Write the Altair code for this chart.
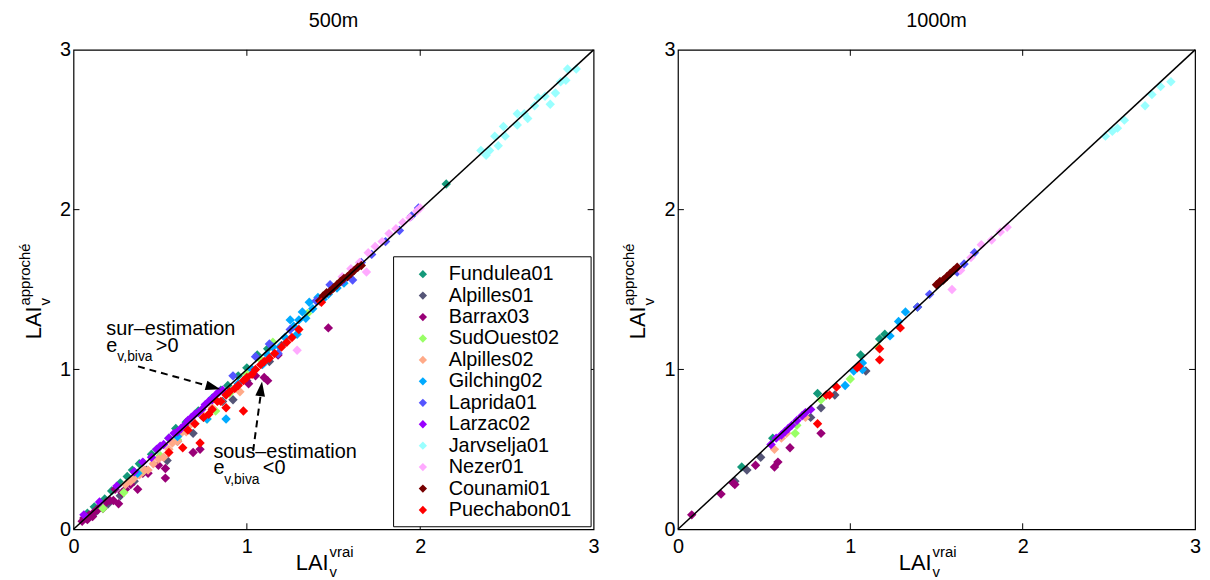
import altair as alt
import pandas as pd

FONT = "Liberation Sans"

series = ["Fundulea01", "Alpilles01", "Barrax03", "SudOuest02", "Alpilles02", "Gilching02",
          "Laprida01", "Larzac02", "Jarvselja01", "Nezer01", "Counami01", "Puechabon01"]
colors = ["#14997a", "#555577", "#990077", "#99ff66", "#ffaa88", "#00aaff",
          "#5555ff", "#9900ff", "#99ffff", "#ffaaff", "#770000", "#ff0000"]

# ---------------- 500m panel ----------------
fund_500_x = [0.08, 0.12, 0.18, 0.22, 0.27, 0.31, 0.34, 0.38, 0.45, 0.48, 0.55, 0.59, 0.65, 0.72, 0.80, 0.85, 0.89, 0.95, 1.00, 1.06, 1.12, 2.15]
fund_500_y = [0.10, 0.14, 0.19, 0.24, 0.29, 0.33, 0.37, 0.41, 0.47, 0.50, 0.57, 0.63, 0.67, 0.74, 0.82, 0.87, 0.90, 0.96, 1.01, 1.09, 1.13, 2.16]
alp1_500_x = [0.12, 0.20, 0.27, 0.35, 0.42, 0.54, 0.60, 0.69, 0.75, 0.86, 0.92, 1.00, 1.13, 1.20]
alp1_500_y = [0.10, 0.16, 0.21, 0.30, 0.37, 0.43, 0.55, 0.60, 0.70, 0.80, 0.81, 0.93, 1.05, 1.15]
barr_500_x = [0.05, 0.06, 0.08, 0.09, 0.11, 0.12, 0.14, 0.15, 0.17, 0.19, 0.21, 0.23, 0.24, 0.26, 0.28, 0.30, 0.33, 0.37, 0.40, 0.43, 0.49, 0.53, 0.53, 0.69, 0.73, 1.01, 1.05, 1.10, 1.12, 1.18, 1.47]
barr_500_y = [0.05, 0.07, 0.06, 0.09, 0.08, 0.11, 0.12, 0.14, 0.13, 0.17, 0.18, 0.18, 0.25, 0.16, 0.23, 0.25, 0.28, 0.25, 0.35, 0.35, 0.40, 0.38, 0.32, 0.48, 0.50, 0.91, 0.96, 0.95, 0.93, 1.09, 1.26]
sud_500_x = [0.17, 0.29, 0.40, 0.50, 0.60, 0.70, 0.77, 0.82, 0.90, 1.00, 1.08, 1.15, 1.35]
sud_500_y = [0.13, 0.23, 0.36, 0.46, 0.56, 0.66, 0.69, 0.74, 0.85, 0.97, 1.06, 1.17, 1.35]
alp2_500_x = [0.30, 0.33, 0.35, 0.38, 0.41, 0.43, 0.46, 0.49, 0.52, 0.55, 0.57, 0.60, 0.62, 0.65, 0.67, 0.70, 0.75, 0.80, 0.85, 0.96]
alp2_500_y = [0.28, 0.30, 0.32, 0.34, 0.37, 0.37, 0.41, 0.44, 0.45, 0.50, 0.54, 0.55, 0.60, 0.61, 0.65, 0.66, 0.71, 0.76, 0.80, 0.86]
gil_500_x = [0.37, 0.60, 0.77, 0.88, 0.95, 1.03, 1.09, 1.12, 1.15, 1.19, 1.22, 1.25, 1.27, 1.29, 1.30, 1.32, 1.34, 1.36, 1.38, 1.41, 1.44, 1.47, 1.52, 1.56]
gil_500_y = [0.35, 0.58, 0.69, 0.69, 0.91, 1.00, 1.03, 1.09, 1.14, 1.14, 1.20, 1.31, 1.27, 1.22, 1.31, 1.36, 1.32, 1.42, 1.38, 1.45, 1.44, 1.47, 1.51, 1.54]
lap_500_x = [0.80, 0.92, 1.05, 1.13, 1.18, 1.25, 1.40, 1.48, 1.55, 1.61, 1.66, 1.72, 1.80, 1.88, 1.95, 1.99]
lap_500_y = [0.82, 0.96, 1.08, 1.16, 1.10, 1.25, 1.43, 1.53, 1.55, 1.56, 1.67, 1.72, 1.80, 1.87, 1.96, 2.01]
larz_500_x = [0.06, 0.15, 0.25, 0.35, 0.40, 0.45, 0.48, 0.50, 0.52, 0.55, 0.58, 0.60, 0.62, 0.64, 0.66, 0.68, 0.70, 0.72, 0.74, 0.76, 0.78, 0.80, 0.82, 0.84, 0.86]
larz_500_y = [0.09, 0.17, 0.27, 0.36, 0.42, 0.45, 0.50, 0.52, 0.53, 0.57, 0.60, 0.61, 0.63, 0.65, 0.68, 0.70, 0.72, 0.73, 0.75, 0.78, 0.80, 0.81, 0.84, 0.86, 0.87]
jarv_500_x = [2.35, 2.38, 2.40, 2.43, 2.45, 2.48, 2.49, 2.56, 2.56, 2.60, 2.62, 2.66, 2.68, 2.72, 2.75, 2.78, 2.81, 2.84, 2.85, 2.90]
jarv_500_y = [2.37, 2.34, 2.37, 2.46, 2.40, 2.52, 2.46, 2.53, 2.60, 2.60, 2.57, 2.65, 2.70, 2.71, 2.66, 2.73, 2.80, 2.81, 2.88, 2.88]
nez_500_x = [1.29, 1.55, 1.60, 1.65, 1.69, 1.70, 1.74, 1.78, 1.82, 1.86, 1.90, 1.94, 1.98, 2.00]
nez_500_y = [1.12, 1.58, 1.63, 1.67, 1.61, 1.73, 1.77, 1.80, 1.85, 1.88, 1.92, 1.95, 1.99, 2.01]
coun_500_x = [1.42, 1.44, 1.46, 1.48, 1.50, 1.52, 1.54, 1.56, 1.58, 1.60, 1.62, 1.64, 1.66]
coun_500_y = [1.43, 1.46, 1.48, 1.49, 1.51, 1.53, 1.55, 1.57, 1.58, 1.60, 1.62, 1.64, 1.65]
pue_500_x = [0.55, 0.63, 0.66, 0.70, 0.73, 0.75, 0.78, 0.80, 0.83, 0.85, 0.88, 0.88, 0.90, 0.93, 0.95, 0.98, 0.98, 1.00, 1.03, 1.05, 1.08, 1.10, 1.13, 1.16, 1.20, 1.23, 1.26, 1.30, 1.43]
pue_500_y = [0.48, 0.51, 0.62, 0.66, 0.54, 0.70, 0.72, 0.75, 0.80, 0.80, 0.76, 0.84, 0.86, 0.88, 0.90, 0.74, 0.93, 0.95, 0.97, 1.00, 1.03, 1.05, 1.07, 1.10, 1.14, 1.17, 1.20, 1.25, 1.42]

# ---------------- 1000m panel ----------------
fund_1000_x = [0.37, 0.55, 0.81, 1.06, 1.17, 1.20, 1.39]
fund_1000_y = [0.39, 0.57, 0.85, 1.09, 1.19, 1.22, 1.39]
alp1_1000_x = [0.33, 0.40, 0.48, 0.77, 0.83, 0.91, 1.09]
alp1_1000_y = [0.30, 0.37, 0.45, 0.70, 0.76, 0.84, 0.99]
barr_1000_x = [0.08, 0.25, 0.32, 0.33, 0.45, 0.56, 0.58, 0.65, 0.83]
barr_1000_y = [0.09, 0.22, 0.29, 0.28, 0.40, 0.39, 0.42, 0.51, 0.60]
sud_1000_x = [0.68, 0.69, 0.83, 1.00, 1.16]
sud_1000_y = [0.60, 0.65, 0.81, 0.94, 1.14]
alp2_1000_x = [0.56, 0.60, 0.63, 0.74]
alp2_1000_y = [0.50, 0.57, 0.60, 0.70]
gil_1000_x = [0.97, 1.02, 1.07, 1.07, 1.23, 1.28, 1.32]
gil_1000_y = [0.90, 0.99, 1.04, 1.00, 1.21, 1.30, 1.36]
lap_1000_x = [1.39, 1.46, 1.62, 1.66, 1.72]
lap_1000_y = [1.39, 1.47, 1.61, 1.66, 1.73]
larz_1000_x = [0.54, 0.57, 0.60, 0.62, 0.64, 0.66, 0.69, 0.72, 0.74, 0.77]
larz_1000_y = [0.53, 0.57, 0.59, 0.61, 0.63, 0.65, 0.68, 0.71, 0.73, 0.75]
jarv_1000_x = [2.48, 2.52, 2.55, 2.59, 2.71, 2.75, 2.80, 2.86]
jarv_1000_y = [2.46, 2.49, 2.51, 2.56, 2.65, 2.72, 2.77, 2.80]
nez_1000_x = [1.59, 1.64, 1.70, 1.76, 1.82, 1.87, 1.91]
nez_1000_y = [1.50, 1.62, 1.70, 1.78, 1.81, 1.86, 1.89]
coun_1000_x = [1.50, 1.52, 1.54, 1.56, 1.58, 1.60, 1.62]
coun_1000_y = [1.53, 1.55, 1.56, 1.58, 1.60, 1.62, 1.64]
pue_1000_x = [0.81, 0.86, 0.88, 0.92, 1.04, 1.05, 1.17, 1.17, 1.29]
pue_1000_y = [0.66, 0.84, 0.84, 0.89, 1.01, 1.02, 1.13, 1.06, 1.26]

# 1:1 line, tick values
line_x = [0, 3]
line_y = [0, 3]
tick_vals = [1, 2]
label_vals = [0, 1, 2, 3]

# annotation arrows (500m panel): tail -> head
arrow_x = [0.372, 1.036]
arrow_y = [1.019, 0.490]
arrow_x2 = [0.800, 1.082]
arrow_y2 = [0.890, 0.860]
head_x = [0.806, 1.082]
head_y = [0.888, 0.879]
head_angle = [15.5, 277.3]


def make_df(pairs):
    rows = []
    for name, xs, ys in pairs:
        for a, b in zip(xs, ys):
            rows.append({"serie": name, "x": a, "y": b})
    df = pd.DataFrame(rows)
    df["idx"] = range(len(df))
    return df


df500 = make_df([
    ("Fundulea01", fund_500_x, fund_500_y), ("Alpilles01", alp1_500_x, alp1_500_y),
    ("Barrax03", barr_500_x, barr_500_y), ("SudOuest02", sud_500_x, sud_500_y),
    ("Alpilles02", alp2_500_x, alp2_500_y), ("Gilching02", gil_500_x, gil_500_y),
    ("Laprida01", lap_500_x, lap_500_y), ("Larzac02", larz_500_x, larz_500_y),
    ("Jarvselja01", jarv_500_x, jarv_500_y), ("Nezer01", nez_500_x, nez_500_y),
    ("Counami01", coun_500_x, coun_500_y), ("Puechabon01", pue_500_x, pue_500_y)])
df1000 = make_df([
    ("Fundulea01", fund_1000_x, fund_1000_y), ("Alpilles01", alp1_1000_x, alp1_1000_y),
    ("Barrax03", barr_1000_x, barr_1000_y), ("SudOuest02", sud_1000_x, sud_1000_y),
    ("Alpilles02", alp2_1000_x, alp2_1000_y), ("Gilching02", gil_1000_x, gil_1000_y),
    ("Laprida01", lap_1000_x, lap_1000_y), ("Larzac02", larz_1000_x, larz_1000_y),
    ("Jarvselja01", jarv_1000_x, jarv_1000_y), ("Nezer01", nez_1000_x, nez_1000_y),
    ("Counami01", coun_1000_x, coun_1000_y), ("Puechabon01", pue_1000_x, pue_1000_y)])

line_df = pd.DataFrame({"x": line_x, "y": line_y})
tick_df = pd.DataFrame({"t": tick_vals})
arrow_df = pd.DataFrame({"x": arrow_x, "y": arrow_y, "x2": arrow_x2, "y2": arrow_y2})
head_df = pd.DataFrame({"x": head_x, "y": head_y, "a": head_angle})

TL = 6  # inward tick length
FS = 20
SPACER = "X" * 140  # invisible legend title, only widens the legend frame


def text_piece(txt, px, py, fs, angle=0):
    return alt.Chart(pd.DataFrame({"d": [0]})).mark_text(
        text=txt, font=FONT, fontSize=fs, align="left", baseline="alphabetic",
        color="black", angle=angle).encode(x=alt.value(px), y=alt.value(py))


def panel(df, title, W, H, legend_on, annotate):
    xs = alt.Scale(domain=[0, 3], nice=False, zero=False)
    ys = alt.Scale(domain=[0, 3], nice=False, zero=False)
    xaxis = alt.Axis(values=label_vals, ticks=False, domain=False, grid=False, title=None,
                     labelFont=FONT, labelFontSize=FS, labelColor="black", labelPadding=7,
                     labelFlush=False, labelOverlap=False, format="d")
    yaxis = alt.Axis(values=label_vals, ticks=False, domain=False, grid=False, title=None,
                     labelFont=FONT, labelFontSize=FS, labelColor="black", labelPadding=3,
                     labelFlush=False, labelOverlap=False, format="d")
    if legend_on:
        leg = alt.Legend(title=SPACER, titleFontSize=2, titlePadding=0, titleOpacity=0,
                         titleLimit=600, titleFont=FONT,
                         orient="bottom-right", offset=3, strokeColor="black",
                         fillColor="white", padding=6, labelFont=FONT, labelFontSize=FS,
                         labelColor="black", symbolType="diamond", symbolSize=70,
                         symbolStrokeWidth=0, symbolOpacity=1, symbolOffset=14,
                         labelOffset=16, rowPadding=1.6, labelLimit=300)
    else:
        leg = None
    pts = alt.Chart(df).mark_point(shape="diamond", filled=True, size=90, opacity=1,
                                   strokeWidth=0).encode(
        x=alt.X("x:Q", scale=xs, axis=xaxis),
        y=alt.Y("y:Q", scale=ys, axis=yaxis),
        color=alt.Color("serie:N", scale=alt.Scale(domain=series, range=colors), legend=leg),
        order=alt.Order("idx:Q"))
    line = alt.Chart(line_df).mark_line(color="black", strokeWidth=1.5).encode(
        x="x:Q", y="y:Q")
    t_left = alt.Chart(tick_df).mark_rule(color="black", strokeWidth=1).encode(
        y="t:Q", x=alt.value(0), x2=alt.value(TL))
    t_right = alt.Chart(tick_df).mark_rule(color="black", strokeWidth=1).encode(
        y="t:Q", x=alt.value(W - TL), x2=alt.value(W))
    t_bot = alt.Chart(tick_df).mark_rule(color="black", strokeWidth=1).encode(
        x="t:Q", y=alt.value(H), y2=alt.value(H - TL))
    t_top = alt.Chart(tick_df).mark_rule(color="black", strokeWidth=1).encode(
        x="t:Q", y=alt.value(0), y2=alt.value(TL))
    layers = [pts, line, t_left, t_right, t_bot, t_top]
    cx = W / 2
    # x axis title LAI_v^vrai
    layers += [text_piece("LAI", cx - 38, H + 41, 22),
               text_piece("vrai", cx - 4, H + 28, 15),
               text_piece("v", cx - 4, H + 48, 15)]
    # y axis title LAI_v^approché (rotated)
    cy = H / 2
    layers += [text_piece("LAI", -33, cy + 50, 22, 270),
               text_piece("approché", -44, cy + 16, 15, 270),
               text_piece("v", -24, cy + 16, 15, 270)]
    if annotate:
        arrows = alt.Chart(arrow_df).mark_rule(color="black", strokeWidth=2,
                                               strokeDash=[7, 5]).encode(
            x="x:Q", y="y:Q", x2="x2:Q", y2="y2:Q")
        heads = alt.Chart(head_df).mark_point(shape="M 1 0 L -1 -0.65 L -1 0.65 Z",
                                              filled=True, color="black", size=225,
                                              opacity=1).encode(
            x="x:Q", y="y:Q", angle=alt.Angle("a:Q", scale=None))
        layers += [arrows, heads]

        def dtext(txt, x, y, fs):
            return alt.Chart(pd.DataFrame({"x": [x], "y": [y]})).mark_text(
                text=txt, font=FONT, fontSize=fs, align="left", baseline="alphabetic",
                color="black").encode(x="x:Q", y="y:Q")
        layers += [dtext("sur–estimation", 0.189, 1.217, FS),
                   dtext("e", 0.189, 1.112, FS),
                   dtext("v,biva", 0.253, 1.050, 14),
                   dtext(">0", 0.475, 1.112, FS),
                   dtext("sous–estimation", 0.807, 0.447, FS),
                   dtext("e", 0.807, 0.348, FS),
                   dtext("v,biva", 0.870, 0.286, 14),
                   dtext("<0", 1.092, 0.348, FS)]
    return alt.layer(*layers).properties(
        width=W, height=H,
        title=alt.TitleParams(title, font=FONT, fontSize=FS, fontWeight="normal",
                              color="black", offset=9, anchor="middle"))


left = panel(df500, "500m", 524, 483, True, True)
right = panel(df1000, "1000m", 521, 483, False, False)

chart = alt.hconcat(left, right, spacing=21).resolve_scale(color="independent").properties(
    padding={"left": 9, "top": 0, "right": 0, "bottom": 0}
).configure_view(stroke="black", strokeWidth=1.2)

chart.save("out.html", embed_options={"renderer": "svg", "actions": False})
